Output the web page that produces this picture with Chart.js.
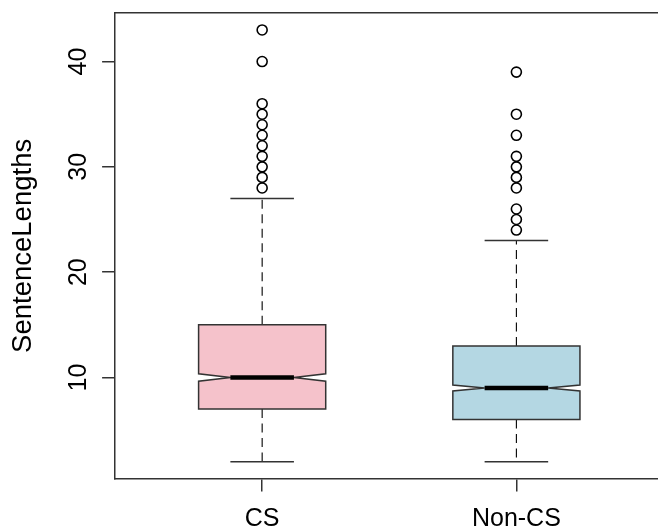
<!DOCTYPE html>
<html><head><meta charset="utf-8">
<script src="https://cdn.jsdelivr.net/npm/chart.js@4"></script>
<style>html,body{margin:0;padding:0;background:#fff;overflow:hidden}#wrap{width:658px;height:531px;position:relative}</style>
</head><body><div id="wrap"><canvas id="c" width="658" height="531"></canvas></div>
<script>
const categories = ['CS', 'Non-CS'];
const whiskerLow = [2, 2];
const q1 = [7, 6];
const median = [10, 9];
const q3 = [15, 13];
const whiskerHigh = [27, 23];
const notchLow = [9.65, 8.72];
const notchHigh = [10.35, 9.28];
const outliersCS = [28, 29, 30, 31, 32, 33, 34, 35, 36, 40, 43];
const outliersNonCS = [24, 25, 26, 28, 29, 30, 31, 33, 35, 39];
const yTicks = [10, 20, 30, 40];
const yTitle = 'SentenceLengths';
const boxColors = ['#F5C2CB', '#B4D7E3'];

const outlierLists = [outliersCS, outliersNonCS];
const outlierPoints = [];
outlierLists.forEach((arr, i) => arr.forEach(v => outlierPoints.push({x: i + 1, y: v})));

const FONT = '"Liberation Sans", Arial, Helvetica, sans-serif';
const LINE = '#333';

function noPad(s) { s.paddingLeft = 0; s.paddingRight = 0; s.paddingTop = 0; s.paddingBottom = 0; }

const boxPlugin = {
  id: 'notchedBoxes',
  beforeDatasetsDraw(chart) {
    const {ctx, scales: {x, y}} = chart;
    ctx.save();
    categories.forEach((c, i) => {
      const pos = i + 1;
      const cx = x.getPixelForValue(pos);
      const hw = x.getPixelForValue(pos + 0.25) - cx;
      const hn = x.getPixelForValue(pos + 0.125) - cx;
      const yQ1 = y.getPixelForValue(q1[i]);
      const yQ3 = y.getPixelForValue(q3[i]);
      const yMed = y.getPixelForValue(median[i]);
      const yNL = y.getPixelForValue(notchLow[i]);
      const yNH = y.getPixelForValue(notchHigh[i]);
      const yWL = y.getPixelForValue(whiskerLow[i]);
      const yWH = y.getPixelForValue(whiskerHigh[i]);
      ctx.strokeStyle = '#000';
      ctx.lineWidth = 1.1;
      ctx.setLineDash([9, 5.5]);
      ctx.beginPath();
      ctx.moveTo(cx, yQ3); ctx.lineTo(cx, yWH);
      ctx.moveTo(cx, yQ1); ctx.lineTo(cx, yWL);
      ctx.stroke();
      ctx.setLineDash([]);
      ctx.strokeStyle = LINE;
      ctx.lineWidth = 1.5;
      ctx.beginPath();
      ctx.moveTo(cx - hn, yWH); ctx.lineTo(cx + hn, yWH);
      ctx.moveTo(cx - hn, yWL); ctx.lineTo(cx + hn, yWL);
      ctx.stroke();
      ctx.beginPath();
      ctx.moveTo(cx - hw, yQ3);
      ctx.lineTo(cx + hw, yQ3);
      ctx.lineTo(cx + hw, yNH);
      ctx.lineTo(cx + hn, yMed);
      ctx.lineTo(cx + hw, yNL);
      ctx.lineTo(cx + hw, yQ1);
      ctx.lineTo(cx - hw, yQ1);
      ctx.lineTo(cx - hw, yNL);
      ctx.lineTo(cx - hn, yMed);
      ctx.lineTo(cx - hw, yNH);
      ctx.closePath();
      ctx.fillStyle = boxColors[i];
      ctx.fill();
      ctx.strokeStyle = LINE;
      ctx.lineWidth = 1.5;
      ctx.lineJoin = 'miter';
      ctx.stroke();
      ctx.strokeStyle = '#000';
      ctx.lineWidth = 4.5;
      ctx.lineCap = 'butt';
      ctx.beginPath();
      ctx.moveTo(cx - hn, yMed); ctx.lineTo(cx + hn, yMed);
      ctx.stroke();
    });
    ctx.restore();
  }
};

new Chart(document.getElementById('c'), {
  type: 'scatter',
  data: {
    datasets: [{
      data: outlierPoints,
      pointRadius: 5,
      pointHoverRadius: 5,
      pointBorderWidth: 1.6,
      borderColor: '#000',
      backgroundColor: 'rgba(0,0,0,0)',
      pointStyle: 'circle'
    }]
  },
  options: {
    responsive: false,
    animation: false,
    events: [],
    layout: {padding: 0, autoPadding: false},
    plugins: {legend: {display: false}, tooltip: {enabled: false}},
    scales: {
      x: {
        type: 'linear', position: 'bottom', min: 0.42, max: 2.557,
        afterBuildTicks: s => { s.ticks = categories.map((c, i) => ({value: i + 1})); },
        afterFit: s => { s.height = 52; noPad(s); },
        grid: {display: true, drawOnChartArea: false, drawTicks: true, tickLength: 12.6, color: LINE, lineWidth: 1.5},
        border: {display: true, color: LINE, width: 1.5},
        ticks: {autoSkip: false, maxRotation: 0, minRotation: 0, padding: 12.5, color: '#000',
          font: {family: FONT, size: 25}, callback: v => categories[Math.round(v) - 1]}
      },
      x2: {
        type: 'linear', position: 'top', min: 0, max: 1,
        afterFit: s => { s.height = 12.7; noPad(s); },
        grid: {display: false},
        border: {display: true, color: LINE, width: 1.5},
        ticks: {display: false}
      },
      y: {
        type: 'linear', position: 'left', min: 0.36, max: 44.64,
        afterBuildTicks: s => { s.ticks = yTicks.map(v => ({value: v})); },
        afterFit: s => { s.width = 114.7; noPad(s); },
        grid: {display: true, drawOnChartArea: false, drawTicks: true, tickLength: 12.6, color: LINE, lineWidth: 1.5},
        border: {display: true, color: LINE, width: 1.5},
        ticks: {autoSkip: false, minRotation: 90, maxRotation: 90, crossAlign: 'center', padding: 9,
          color: '#000', font: {family: FONT, size: 25}},
        title: {display: true, text: yTitle, color: '#000', font: {family: FONT, size: 27.5},
          padding: {top: 7, bottom: 0}}
      }
    }
  },
  plugins: [boxPlugin]
});
</script>
</body></html>
